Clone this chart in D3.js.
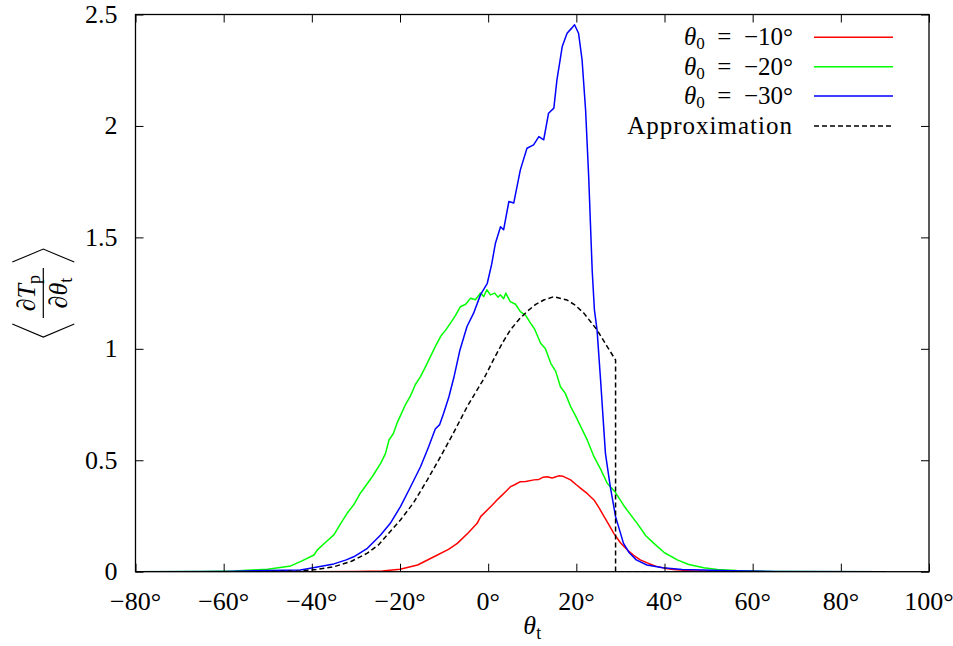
<!DOCTYPE html>
<html>
<head>
<meta charset="utf-8">
<script src="https://cdn.jsdelivr.net/npm/d3@7"></script>
<style>
  html, body { margin: 0; padding: 0; background: #fff; }
  svg { display: block; }
  text { font-family: "Liberation Serif", "Times New Roman", serif; fill: #000; }
</style>
</head>
<body>
<svg id="chart" width="953" height="646"></svg>
<script>
// ---------------- data ----------------
const xTicks = [-80, -60, -40, -20, 0, 20, 40, 60, 80, 100];
const yTicks = [0, 0.5, 1, 1.5, 2, 2.5];
const yTickLabels = ["0", "0.5", "1", "1.5", "2", "2.5"];

const legendLabels = ["−10°", "−20°", "−30°", "Approximation"];

const redX = [-80, -40, -30, -24, -20, -16, -12.3, -9, -7, -4.5, -2.5, -1.7, -0.2, 1, 2.0, 2.8, 4, 5.1, 6, 7.3, 8.5, 10.4, 11.5, 12.5, 13.4, 14.5, 15.2, 16.0, 17, 18.7, 20, 21.0, 22.5, 24.0, 25.2, 26.3, 27.4, 28.5, 30, 31.6, 33, 34.5, 36.5, 38, 40, 42, 46, 50, 60, 70, 80, 90];
const redY = [0, 0, 0.001, 0.003, 0.011, 0.03, 0.067, 0.1, 0.127, 0.175, 0.217, 0.247, 0.277, 0.3, 0.322, 0.337, 0.36, 0.382, 0.39, 0.404, 0.405, 0.412, 0.414, 0.424, 0.426, 0.42, 0.425, 0.43, 0.428, 0.412, 0.39, 0.374, 0.35, 0.322, 0.285, 0.247, 0.21, 0.172, 0.13, 0.097, 0.073, 0.053, 0.036, 0.025, 0.016, 0.01, 0.004, 0.002, 0, 0, 0, 0];

const greenX = [-80, -65, -57.6, -50, -44.8, -42.6, -39.5, -38.8, -37, -35, -33.5, -32, -30.5, -29, -27.6, -26.3, -24.4, -23.3, -22.5, -21.5, -20.6, -19.9, -18.75, -17.6, -16.5, -15.35, -14.2, -13.1, -12, -10.8, -9.6, -8.55, -7.4, -6.3, -5.1, -4, -2.9, -1.75, -1, -0.3, 0.5, 1.5, 2.2, 2.8, 3.5, 4, 5, 6.2, 7.3, 8.5, 9.6, 10.5, 11.9, 13, 14.2, 15.3, 16.4, 17.5, 18.7, 19.8, 21, 22.5, 24, 25.5, 27, 28.7, 31, 33.8, 35.8, 37.6, 40, 42.9, 45.5, 48.9, 52, 56.4, 65, 90];
const greenY = [0, 0.001, 0.003, 0.011, 0.026, 0.045, 0.075, 0.097, 0.13, 0.165, 0.215, 0.262, 0.3, 0.352, 0.39, 0.426, 0.486, 0.53, 0.591, 0.62, 0.67, 0.7, 0.75, 0.79, 0.84, 0.875, 0.92, 0.965, 1.01, 1.055, 1.085, 1.115, 1.15, 1.189, 1.2, 1.227, 1.22, 1.25, 1.235, 1.265, 1.242, 1.25, 1.232, 1.242, 1.225, 1.25, 1.212, 1.2, 1.167, 1.15, 1.115, 1.09, 1.025, 1.0, 0.935, 0.9, 0.83, 0.8, 0.741, 0.7, 0.651, 0.59, 0.516, 0.46, 0.397, 0.36, 0.29, 0.217, 0.16, 0.127, 0.085, 0.053, 0.032, 0.018, 0.01, 0.005, 0.001, 0];

const blueX = [-80, -60, -50, -42.6, -39.7, -35, -32.2, -30.5, -27.4, -24.4, -22.2, -19.9, -17.6, -15.35, -13.5, -12, -11, -10.1, -8.9, -7.8, -6.4, -4.8, -3.3, -1.75, -0.2, 0.8, 1.65, 2.8, 3.5, 4.7, 5.8, 7.3, 8.8, 10.3, 11.5, 12.6, 13.7, 14.9, 15.6, 16.8, 17.9, 19.0, 19.6, 20.5, 21.3, 22.1, 22.8, 23.6, 24.1, 24.7, 25.5, 26.2, 26.6, 27.7, 28.9, 30.7, 32, 33.6, 36, 39.6, 44, 48.7, 55, 65, 90];
const blueY = [0, 0.001, 0.005, 0.008, 0.018, 0.035, 0.053, 0.067, 0.105, 0.165, 0.217, 0.292, 0.381, 0.471, 0.561, 0.64, 0.66, 0.711, 0.785, 0.87, 0.995, 1.10, 1.16, 1.242, 1.294, 1.38, 1.474, 1.548, 1.534, 1.661, 1.654, 1.803, 1.90, 1.915, 1.952, 1.938, 2.057, 2.08, 2.207, 2.356, 2.416, 2.44, 2.454, 2.416, 2.297, 2.072, 1.773, 1.35, 1.175, 1.085, 0.86, 0.651, 0.531, 0.382, 0.247, 0.127, 0.085, 0.053, 0.03, 0.018, 0.01, 0.008, 0.004, 0.001, 0];

const approxX = [-80, -50, -42.6, -39, -35, -31, -27.4, -24.9, -22.9, -19.9, -16.9, -13.8, -10.8, -7.8, -4.76, -2.5, -1, 1.3, 3.2, 5.05, 7, 8.8, 10.7, 12.6, 14.9, 17.9, 19.8, 21.7, 24.7, 27, 28.9, 28.9, 90];
const approxY = [0, 0, 0.003, 0.01, 0.022, 0.047, 0.083, 0.12, 0.165, 0.232, 0.31, 0.412, 0.516, 0.625, 0.741, 0.816, 0.865, 0.955, 1.025, 1.085, 1.132, 1.167, 1.198, 1.219, 1.234, 1.219, 1.195, 1.16, 1.085, 1.01, 0.95, 0, 0];

const seriesColors = ["#ff0000", "#00ff00", "#0000ff", "#000000"];

// ---------------- layout ----------------
const svg = d3.select("#chart");
const L = 135.5, R = 929, T = 14.5, B = 571.7;
const x = d3.scaleLinear().domain([-80, 100]).range([L, R]);
const y = d3.scaleLinear().domain([0, 2.5]).range([B, T]);

svg.append("defs").append("clipPath").attr("id", "clip")
  .append("rect").attr("x", L).attr("y", T).attr("width", R - L).attr("height", B - T);

const line = d3.line().x(d => x(d[0])).y(d => y(d[1]));
const zip = (a, b) => a.map((v, i) => [v, b[i]]);

const plot = svg.append("g").attr("clip-path", "url(#clip)");
const series = [
  { pts: zip(redX, redY), color: seriesColors[0], dash: null },
  { pts: zip(greenX, greenY), color: seriesColors[1], dash: null },
  { pts: zip(blueX, blueY), color: seriesColors[2], dash: null },
  { pts: zip(approxX, approxY), color: seriesColors[3], dash: "5,3" }
];
series.forEach(s => {
  plot.append("path").datum(s.pts)
    .attr("d", line)
    .attr("fill", "none")
    .attr("stroke", s.color)
    .attr("stroke-width", 1.5)
    .attr("stroke-linejoin", "round")
    .attr("stroke-dasharray", s.dash);
});

// ---------------- axes (ticks inward, mirrored) ----------------
const tickLen = 8;
const fontSize = 26;
const axB = svg.append("g").attr("transform", `translate(0,${B})`)
  .call(d3.axisBottom(x).tickValues(xTicks).tickSizeInner(-tickLen).tickSizeOuter(0).tickFormat(""));
const axT = svg.append("g").attr("transform", `translate(0,${T})`)
  .call(d3.axisTop(x).tickValues(xTicks).tickSizeInner(-tickLen).tickSizeOuter(0).tickFormat(""));
const axL = svg.append("g").attr("transform", `translate(${L},0)`)
  .call(d3.axisLeft(y).tickValues(yTicks).tickSizeInner(-tickLen).tickSizeOuter(0).tickFormat(""));
const axR = svg.append("g").attr("transform", `translate(${R},0)`)
  .call(d3.axisRight(y).tickValues(yTicks).tickSizeInner(-tickLen).tickSizeOuter(0).tickFormat(""));
[axB, axT, axL, axR].forEach(a => {
  a.selectAll(".domain").remove();
  a.selectAll("line").attr("stroke", "#000").attr("stroke-width", 1);
});
svg.append("rect").attr("x", L).attr("y", T).attr("width", R - L).attr("height", B - T)
  .attr("fill", "none").attr("stroke", "#000").attr("stroke-width", 1.3);

// tick labels
const fmtX = v => (v < 0 ? "−" + Math.abs(v) : String(v)) + "°";
svg.append("g").selectAll("text").data(xTicks).join("text")
  .attr("x", d => x(d)).attr("y", B + 38.5)
  .attr("text-anchor", "middle").attr("font-size", fontSize)
  .text(fmtX);
svg.append("g").selectAll("text").data(yTicks).join("text")
  .attr("x", L - 18).attr("y", d => y(d) + 8.5)
  .attr("text-anchor", "end").attr("font-size", fontSize)
  .text((d, i) => yTickLabels[i]);

// x axis title θ_t
const xt = svg.append("text").attr("x", (L + R) / 2).attr("y", 634)
  .attr("text-anchor", "middle").attr("font-size", fontSize);
xt.append("tspan").attr("font-style", "italic").text("θ");
xt.append("tspan").attr("font-size", 18).attr("dy", 5).text("t");

// y axis title ⟨∂Tp/∂θt⟩
const yl = svg.append("g").attr("transform", `translate(43.3,${(T + B) / 2}) rotate(-90)`);
yl.append("line").attr("x1", -25).attr("x2", 25).attr("y1", 0).attr("y2", 0)
  .attr("stroke", "#000").attr("stroke-width", 1.2);
const num = yl.append("text").attr("x", 0).attr("y", -8).attr("text-anchor", "middle").attr("font-size", fontSize);
num.append("tspan").text("∂");
num.append("tspan").attr("font-style", "italic").text("T");
num.append("tspan").attr("font-size", 18).attr("dy", 5).text("p");
const den = yl.append("text").attr("x", 0).attr("y", 24).attr("text-anchor", "middle").attr("font-size", fontSize);
den.append("tspan").text("∂");
den.append("tspan").attr("font-style", "italic").text("θ");
den.append("tspan").attr("font-size", 18).attr("dy", 5).text("t");
yl.append("path").attr("d", "M-31,-31L-44,0L-31,31M31,-31L44,0L31,31")
  .attr("fill", "none").attr("stroke", "#000").attr("stroke-width", 1.1);

// ---------------- legend ----------------
const legY = [37.3, 66.7, 96, 126];
const legFont = 25;
const leg = svg.append("g");
series.forEach((s, i) => {
  const t = leg.append("text").attr("x", 793).attr("y", legY[i] + 8)
    .attr("text-anchor", "end").attr("font-size", legFont);
  if (i < 3) {
    t.append("tspan").attr("font-style", "italic").text("θ");
    t.append("tspan").attr("font-size", 17).attr("dy", 4).text("0");
    t.append("tspan").attr("dy", -4).text("\u2002=\u2002" + legendLabels[i]);
  } else {
    t.attr("letter-spacing", 1).text(legendLabels[i]);
  }
  leg.append("line").attr("x1", 814).attr("x2", 893).attr("y1", legY[i]).attr("y2", legY[i])
    .attr("stroke", s.color).attr("stroke-width", 1.5)
    .attr("stroke-dasharray", s.dash);
});
</script>
</body>
</html>
